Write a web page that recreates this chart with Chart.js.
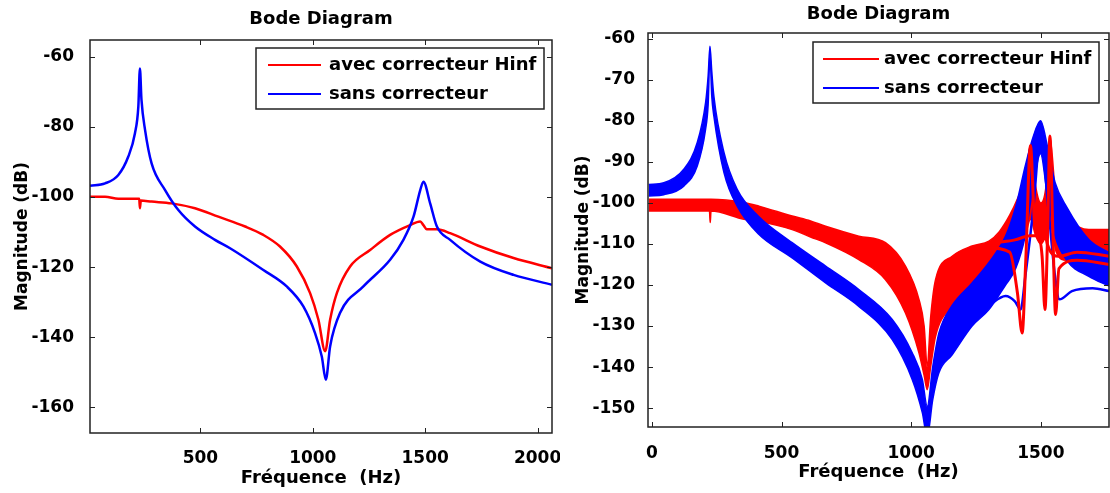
<!DOCTYPE html>
<html>
<head>
<meta charset="utf-8">
<script src="https://cdn.jsdelivr.net/npm/chart.js@4.4.1/dist/chart.umd.min.js"></script>
<style>
  html, body { margin: 0; padding: 0; background: #fff; overflow: hidden; width: 1110px; height: 493px; }
  .box { position: absolute; top: 0; height: 493px; background: #fff; }
  #leftBox { left: 0; width: 560px; }
  #rightBox { left: 560px; width: 556px; }
</style>
</head>
<body>
<div class="box" id="leftBox"><canvas id="left"></canvas></div>
<div class="box" id="rightBox"><canvas id="right"></canvas></div>
<script>
// ---- left plot: single response, with / without the Hinf controller ----
const leftXTicks = [500, 1000, 1500, 2000];
const leftYTicks = [-160, -140, -120, -100, -80, -60];

const sansFreqL = [9, 76, 135, 179, 209, 224, 231, 238, 254, 283, 343, 402, 476, 565, 632, 780, 884, 958, 1010, 1040, 1058, 1077, 1121, 1225, 1344, 1403, 1448, 1478, 1492, 1522, 1552, 1611, 1745, 1893, 2064];
const sansMagL = [-96.8, -96.1, -93.7, -88.5, -81.8, -74.2, -63.3, -72.3, -80.9, -90.4, -98, -103.7, -108.4, -112.2, -114.6, -120.8, -125.5, -131.2, -138.8, -145.5, -152.1, -142.6, -133.1, -125.5, -117.9, -112.2, -105.6, -98, -95.6, -101.8, -108.4, -112.2, -118.4, -122.2, -125];

const avecFreqL = [9, 76, 135, 228, 231, 235, 283, 372, 476, 580, 699, 780, 854, 929, 988, 1025, 1055, 1077, 1107, 1166, 1255, 1344, 1433, 1478, 1492, 1507, 1552, 1611, 1745, 1893, 2064];
const avecMagL = [-99.9, -99.9, -100.5, -100.5, -103.2, -101, -101.3, -101.8, -103.2, -105.6, -108.4, -110.8, -114.1, -119.8, -127.4, -135, -144, -135, -127.4, -119.8, -115.1, -110.8, -108, -107, -108, -109.2, -109.2, -110.3, -114.1, -117.4, -120.3];

// ---- right plot: family of responses (upper / lower envelopes + stray traces) ----
const rightXTicks = [0, 500, 1000, 1500];
const rightYTicks = [-150, -140, -130, -120, -110, -100, -90, -80, -70, -60];

const sansBandFreq = [-12, 46, 123, 175, 207, 217, 224, 231, 239, 278, 329, 410, 541, 670, 798, 927, 1004, 1043, 1062, 1083, 1107, 1158, 1235, 1300, 1364, 1403, 1440, 1470, 1499, 1525, 1555, 1600, 1685, 1765];
const sansUpper = [-95.5, -95.1, -91.8, -85.3, -75.6, -69, -61.8, -68, -74, -87.7, -96.7, -103.2, -109.7, -115.4, -121.1, -128.4, -136.5, -143, -149.6, -140, -131.7, -125, -119.5, -114.5, -108.1, -101, -91, -84, -80, -86, -95, -101, -108.9, -112.2];
const sansLower = [-98.3, -98, -95.9, -91, -82.1, -76, -64, -74, -78.8, -92.6, -100.8, -107.5, -113.4, -119.5, -125.2, -133.3, -143, -151.1, -157, -148, -141.4, -137, -130, -126, -120, -116, -108, -96, -88, -98, -108, -114, -117.9, -120.3];

const sansTraceFreq = [1250, 1300, 1364, 1400, 1422, 1440, 1470, 1499, 1530, 1555, 1572, 1620, 1700, 1765];
const sansTraceMag = [-127, -125, -122.7, -124, -126, -118, -102, -84, -102, -118, -123.5, -121.5, -120.8, -121.5];

const avecBandFreq = [-12, 96, 218, 222, 225, 228, 355, 413, 541, 612, 670, 798, 901, 978, 1030, 1050, 1062, 1075, 1094, 1158, 1235, 1300, 1340, 1380, 1410, 1440, 1460, 1480, 1500, 1520, 1535, 1560, 1600, 1685, 1765];
const avecUpper = [-99.1, -99.1, -99.1, -99.1, -99.1, -99.1, -99.9, -100.8, -103.2, -104.4, -105.7, -108.1, -109.7, -115.4, -123.5, -130, -140, -128, -118.7, -113, -110.5, -109.3, -107, -103, -99, -94, -86, -96, -100, -96, -84, -100, -104, -106.5, -106.5];
const avecLower = [-102, -102, -102, -102, -104.8, -102, -104, -104.5, -106.5, -108.3, -109.7, -113.8, -118.7, -126.8, -136.5, -142, -145.5, -140, -132.5, -125.2, -120.3, -118, -114, -112, -112, -108, -104, -108, -110, -108, -105, -112, -114, -113, -112.2];

const avecTrace1Freq = [1200, 1300, 1380, 1410, 1428, 1442, 1460, 1478, 1500, 1525, 1570, 1640, 1765];
const avecTrace1Mag = [-112, -111, -112, -122, -131.7, -114, -86, -106, -101, -110, -113, -112, -113];
const avecTrace2Freq = [1200, 1300, 1400, 1460, 1490, 1505, 1516, 1526, 1535, 1546, 1557, 1570, 1640, 1765];
const avecTrace2Mag = [-112, -110, -109, -108, -108, -113, -126, -108, -83.7, -106, -127.2, -116, -114, -115];

const legendLabels = ["avec correcteur Hinf", "sans correcteur"];
const RED = "#ff0000";
const BLUE = "#0000ff";
const FONT = "DejaVu Sans";

const pts = (xs, ys) => xs.map((x, i) => ({ x, y: ys[i] }));

function line(data, color, width, order, extra) {
  return Object.assign({
    data, borderColor: color, backgroundColor: color, borderWidth: width,
    pointRadius: 0, cubicInterpolationMode: "monotone", fill: false, order
  }, extra || {});
}

// box, inward ticks on all sides, and the legend inside the axes
const framePlugin = {
  id: "frame",
  afterDraw(chart, args, opts) {
    const { ctx, chartArea: a, scales } = chart;
    ctx.save();
    ctx.strokeStyle = "#222";
    ctx.lineWidth = 1;
    ctx.beginPath();
    scales.x.ticks.forEach(t => {
      const px = Math.round(scales.x.getPixelForValue(t.value)) + 0.5;
      ctx.moveTo(px, a.bottom); ctx.lineTo(px, a.bottom - 5);
      ctx.moveTo(px, a.top); ctx.lineTo(px, a.top + 5);
    });
    scales.y.ticks.forEach(t => {
      const py = Math.round(scales.y.getPixelForValue(t.value)) + 0.5;
      ctx.moveTo(a.left, py); ctx.lineTo(a.left + 5, py);
      ctx.moveTo(a.right, py); ctx.lineTo(a.right - 5, py);
    });
    ctx.stroke();
    ctx.lineWidth = 1.5;
    ctx.strokeRect(a.left, a.top, a.right - a.left, a.bottom - a.top);

    const L = opts.legend;
    const bx = a.right - L.right - L.width;
    const by = a.top + L.top;
    ctx.fillStyle = "#fff";
    ctx.fillRect(bx, by, L.width, L.height);
    ctx.lineWidth = 1.5;
    ctx.strokeStyle = "#222";
    ctx.strokeRect(bx, by, L.width, L.height);
    const colors = [RED, BLUE];
    ctx.font = "bold 18px '" + FONT + "'";
    ctx.textBaseline = "middle";
    legendLabels.forEach((txt, i) => {
      const ly = by + 17 + 29 * i;
      ctx.strokeStyle = colors[i];
      ctx.lineWidth = 2;
      ctx.beginPath();
      ctx.moveTo(bx + L.lineX, ly); ctx.lineTo(bx + L.lineX + L.lineLen, ly);
      ctx.stroke();
      ctx.fillStyle = "#000";
      ctx.fillText(txt, bx + L.textX, ly);
    });
    ctx.restore();
  }
};

function makeOptions(cfg) {
  const tickFont = { family: FONT, weight: "bold", size: 17 };
  const titleFont = { family: FONT, weight: "bold", size: 18 };
  return {
    responsive: true,
    maintainAspectRatio: false,
    animation: false,
    layout: { padding: { left: 0, right: cfg.padRight, top: 0, bottom: 0 } },
    scales: {
      x: {
        type: "linear", min: cfg.xMin, max: cfg.xMax,
        grid: { display: false }, border: { display: false },
        afterBuildTicks: s => { s.ticks = cfg.xTicks.map(v => ({ value: v })); },
        afterFit: s => { s.height = cfg.xHeight; s.paddingLeft = 0; s.paddingRight = 0; },
        ticks: { color: "#000", font: tickFont, padding: cfg.xTickPad, maxRotation: 0, callback: v => String(v) },
        title: { display: true, text: "Fréquence  (Hz)", color: "#000", font: titleFont, padding: { top: 0, bottom: cfg.xTitlePad } }
      },
      y: {
        type: "linear", min: cfg.yMin, max: cfg.yMax,
        grid: { display: false }, border: { display: false },
        afterBuildTicks: s => { s.ticks = cfg.yTicks.map(v => ({ value: v })); },
        afterFit: s => { s.width = cfg.yWidth; s.paddingTop = 0; s.paddingBottom = 0; },
        ticks: { color: "#000", font: tickFont, padding: cfg.yTickPad, callback: v => String(v) },
        title: { display: true, text: "Magnitude (dB)", color: "#000", font: { family: FONT, weight: "bold", size: 17 }, padding: { top: cfg.yTitlePad, bottom: 0 } }
      }
    },
    plugins: {
      legend: { display: false },
      tooltip: { enabled: false },
      title: {
        display: true, text: "Bode Diagram", fullSize: false, color: "#000",
        font: titleFont, padding: { top: cfg.titleTop, bottom: cfg.titleBottom }
      },
      frame: { legend: cfg.legend }
    }
  };
}

new Chart(document.getElementById("left"), {
  type: "line",
  data: {
    datasets: [
      line(pts(sansFreqL, sansMagL), BLUE, 2.5, 1),
      line(pts(avecFreqL, avecMagL), RED, 2.5, 2)
    ]
  },
  options: makeOptions({
    padRight: 8, xMin: 9, xMax: 2064, yMin: -167.3, yMax: -55.2,
    xTicks: leftXTicks, yTicks: leftYTicks,
    xHeight: 60, yWidth: 90, xTickPad: 7, yTickPad: 8, xTitlePad: 4, yTitlePad: 12,
    titleTop: 9, titleBottom: 9.4,
    legend: { right: 8, top: 8, width: 288, height: 61, lineX: 12, lineLen: 53, textX: 73 }
  }),
  plugins: [framePlugin]
});

new Chart(document.getElementById("right"), {
  type: "line",
  data: {
    datasets: [
      line(pts(avecTrace1Freq, avecTrace1Mag), RED, 3, 1),
      line(pts(avecTrace2Freq, avecTrace2Mag), RED, 3, 1),
      line(pts(sansTraceFreq, sansTraceMag), BLUE, 2.5, 2),
      line(pts(sansBandFreq, sansUpper), BLUE, 1.5, 3),
      line(pts(sansBandFreq, sansLower), BLUE, 1.5, 3, { fill: 3 }),
      line(pts(avecBandFreq, avecUpper), RED, 1.5, 5),
      line(pts(avecBandFreq, avecLower), RED, 1.5, 5, { fill: 5 })
    ]
  },
  options: makeOptions({
    padRight: 7, xMin: -15, xMax: 1763, yMin: -154.6, yMax: -58.6,
    xTicks: rightXTicks, yTicks: rightYTicks,
    xHeight: 66, yWidth: 88, xTickPad: 8, yTickPad: 5, xTitlePad: 10, yTitlePad: 13,
    titleTop: 4, titleBottom: 7.4,
    legend: { right: 10, top: 9, width: 286, height: 61, lineX: 10, lineLen: 56, textX: 71 }
  }),
  plugins: [framePlugin]
});
</script>
</body>
</html>
